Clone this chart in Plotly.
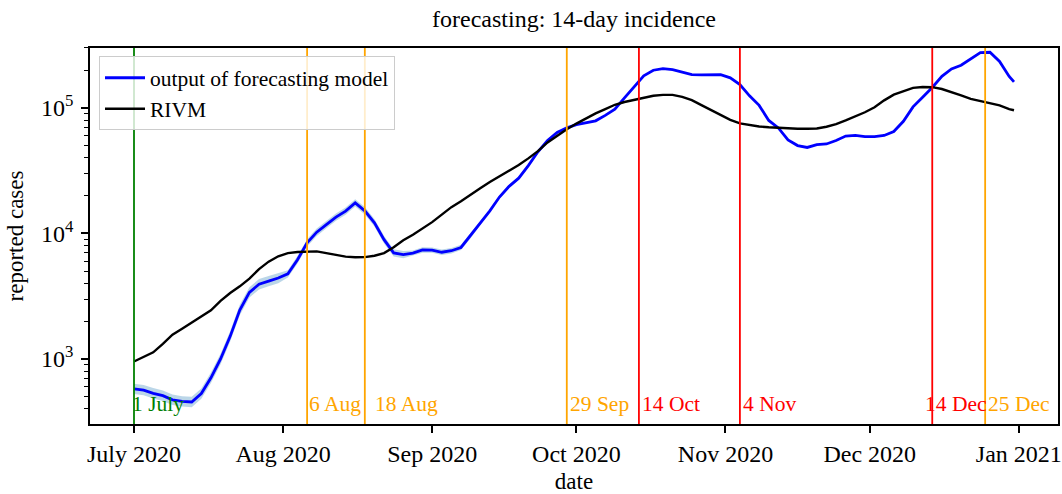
import pandas as pd
import plotly.graph_objects as go

# ---- data ----
dates = [d.strftime("%Y-%m-%d") for d in pd.date_range("2020-07-01", "2020-12-30", freq="2D")] + ["2020-12-31"]

rivm = [955, 1035, 1130, 1320, 1560, 1740, 1950, 2150, 2440, 2900,
        3350, 3790, 4370, 5200, 5960, 6580, 6970, 7110, 7200, 7200,
        6970, 6730, 6530, 6460, 6470, 6640, 6970, 7760, 8810, 9770,
        10960, 12300, 14130, 16200, 18030, 20180, 22900, 25700, 28380, 31600,
        35100, 39600, 45200, 53100, 60300, 67600, 75000, 82800, 90400, 97700,
        105900, 111400, 115600, 120200, 125000, 127000, 127000, 122200, 115300, 105200,
        96400, 87700, 80400, 75200, 72800, 71100, 70100, 69200, 68500, 68200,
        68200, 68500, 70800, 74100, 79400, 85100, 92300, 101200, 114800, 127600,
        136500, 144500, 146600, 146200, 141300, 134300, 125900, 118000, 113800, 109600,
        104700, 97700, 95700]

model = [578, 565, 533, 510, 473, 459, 454, 530, 708, 1000,
         1514, 2455, 3390, 3936, 4170, 4416, 4764, 6170, 8400, 10230,
         11750, 13490, 15070, 17500, 15140, 12160, 8913, 7000, 6780, 6970,
         7380, 7350, 7080, 7280, 7730, 9620, 12020, 15140, 19500, 23700,
         27540, 34670, 44670, 54950, 63830, 69340, 73450, 75680, 78890, 87100,
         97720, 120200, 147900, 179900, 199500, 205600, 201800, 192800, 184100, 183200,
         183700, 183700, 173400, 153500, 124700, 104700, 79400, 69200, 55600, 50100,
         48400, 51000, 51600, 55000, 59600, 60300, 59000, 59000, 60300, 64900,
         78200, 101900, 121600, 145500, 178600, 204200, 218800, 245500, 275400, 277300,
         234400, 177800, 161100]

# relative half-width of the shaded uncertainty band around the model output
band = [0.10, 0.10, 0.10, 0.10, 0.10, 0.10, 0.10, 0.10, 0.10, 0.10,
        0.10, 0.10, 0.10, 0.10, 0.10, 0.10, 0.07, 0.07, 0.07, 0.07,
        0.07, 0.07, 0.07, 0.07, 0.07, 0.07, 0.07, 0.07, 0.07, 0.05,
        0.05, 0.05, 0.05, 0.05, 0.05, 0.05, 0.03, 0.03, 0.03, 0.03,
        0.03, 0.03, 0.03, 0.03, 0.03, 0.0, 0.0, 0.0, 0.0, 0.0,
        0.0, 0.0, 0.0, 0.0, 0.0, 0.0, 0.0, 0.0, 0.0, 0.0,
        0.0, 0.0, 0.0, 0.0, 0.0, 0.0, 0.0, 0.0, 0.0, 0.0,
        0.0, 0.0, 0.0, 0.0, 0.0, 0.0, 0.0, 0.0, 0.0, 0.0,
        0.0, 0.0, 0.0, 0.0, 0.0, 0.0, 0.0, 0.0, 0.0, 0.0,
        0.0, 0.0, 0.0]

event_dates = ["2020-07-01", "2020-08-06", "2020-08-18", "2020-09-29",
               "2020-10-14", "2020-11-04", "2020-12-14", "2020-12-25"]
event_labels = ["1 July", "6 Aug", "18 Aug", "29 Sep", "14 Oct", "4 Nov", "14 Dec", "25 Dec"]
event_colors = ["green", "orange", "orange", "orange", "red", "red", "red", "orange"]
label_shift = [-3, 1, 9, 2, 2, 2, -8, 2]

month_ticks = ["2020-07-01", "2020-08-01", "2020-09-01", "2020-10-01",
               "2020-11-01", "2020-12-01", "2021-01-01"]
month_labels = ["July 2020", "Aug 2020", "Sep 2020", "Oct 2020",
                "Nov 2020", "Dec 2020", "Jan 2021"]
y_ticks = [1e3, 1e4, 1e5]
y_labels = ["10<sup>3</sup>", "10<sup>4</sup>", "10<sup>5</sup>"]
y_minor = [300, 400, 500, 600, 700, 800, 900,
           2000, 3000, 4000, 5000, 6000, 7000, 8000, 9000,
           20000, 30000, 40000, 50000, 60000, 70000, 80000, 90000,
           200000, 300000]

FONT = "Liberation Serif, Times New Roman, serif"

upper = [v * (1 + f) for v, f in zip(model, band)]
lower = [v / (1 + f) for v, f in zip(model, band)]

fig = go.Figure()
fig.add_trace(go.Scatter(x=dates, y=upper, mode="lines", line=dict(width=0),
                         showlegend=False, hoverinfo="skip"))
fig.add_trace(go.Scatter(x=dates, y=lower, mode="lines", line=dict(width=0),
                         fill="tonexty", fillcolor="rgba(31,119,180,0.3)",
                         showlegend=False, hoverinfo="skip"))
fig.add_trace(go.Scatter(x=dates, y=model, mode="lines", name="output of forecasting model",
                         line=dict(color="blue", width=2.8)))
fig.add_trace(go.Scatter(x=dates, y=rivm, mode="lines", name="RIVM",
                         line=dict(color="black", width=2.4)))

for d, lab, c, s in zip(event_dates, event_labels, event_colors, label_shift):
    fig.add_shape(type="line", xref="x", yref="paper", x0=d, x1=d, y0=0, y1=1,
                  line=dict(color=c, width=1.8), layer="above")
    fig.add_annotation(x=d, xref="x", yref="paper", y=0.054, text=lab,
                       showarrow=False, xanchor="left", yanchor="middle",
                       xshift=s, borderpad=0, font=dict(color=c, size=21.5, family=FONT))

fig.update_layout(
    width=1062, height=494,
    margin=dict(l=90, r=4, t=48, b=70, autoexpand=False),
    paper_bgcolor="white", plot_bgcolor="white",
    font=dict(family=FONT, color="black", size=24),
    title=dict(text="forecasting: 14-day incidence", x=0.5, xref="paper",
               y=0.963, yref="container", xanchor="center", yanchor="middle",
               font=dict(size=24, family=FONT)),
    legend=dict(x=0.0093, y=0.978, xanchor="left", yanchor="top",
                traceorder="normal", itemwidth=40,
                entrywidth=276, entrywidthmode="pixels",
                bgcolor="rgba(255,255,255,0.8)", bordercolor="#cccccc", borderwidth=1,
                font=dict(size=21.5, family=FONT), tracegroupgap=0),
    showlegend=True,
)

fig.update_xaxes(
    type="date", range=["2020-06-21 20:24", "2021-01-09 03:36"],
    tickmode="array", tickvals=month_ticks, ticktext=month_labels,
    ticks="outside", ticklen=7, tickwidth=1.6, tickcolor="black",
    showline=True, linewidth=1.8, linecolor="black", mirror=True,
    showgrid=False, zeroline=False, automargin=False,
    tickfont=dict(size=24, family=FONT),
    title=dict(text="date", font=dict(size=23, family=FONT), standoff=8),
)
fig.update_yaxes(
    type="log", range=[2.482, 5.477],
    tickmode="array", tickvals=y_ticks, ticktext=y_labels,
    ticks="outside", ticklen=7, tickwidth=1.6, tickcolor="black",
    ticklabelstandoff=3,
    minor=dict(tickmode="array", tickvals=y_minor, ticks="outside", ticklen=4,
               tickwidth=1.2, tickcolor="black", showgrid=False),
    showline=True, linewidth=1.8, linecolor="black", mirror=True,
    showgrid=False, zeroline=False, automargin=False,
    tickfont=dict(size=24, family=FONT),
    title=dict(text="reported cases", font=dict(size=23, family=FONT), standoff=11),
)

fig.write_html("out.html", config={"displayModeBar": False},
               post_script="document.body.style.margin='0px';")
